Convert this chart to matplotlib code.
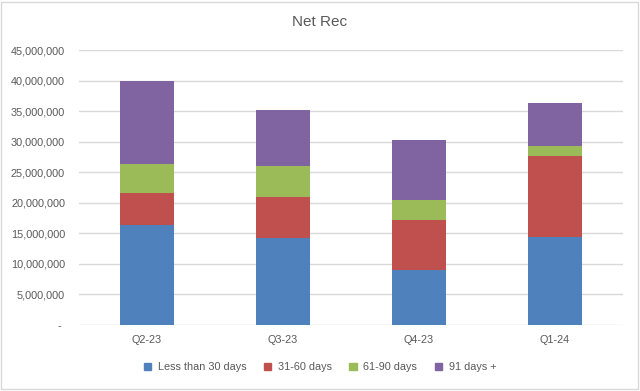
import matplotlib.pyplot as plt
from matplotlib.patches import Patch, Rectangle
from matplotlib.ticker import FuncFormatter

# data (in millions)
quarters = ["Q2-23", "Q3-23", "Q4-23", "Q1-24"]
less_30 = [16.4, 14.3, 9.0, 14.4]
d31_60 = [5.2, 6.7, 8.2, 13.3]
d61_90 = [4.8, 5.1, 3.3, 1.6]
d91_plus = [13.5, 9.1, 9.8, 7.1]

series = [
    ("Less than 30 days", less_30, "#4F81BD"),
    ("31-60 days", d31_60, "#C0504D"),
    ("61-90 days", d61_90, "#9BBB59"),
    ("91 days +", d91_plus, "#8064A2"),
]

plt.rcParams['font.family'] = ['Liberation Sans', 'DejaVu Sans']
txt = "#595959"

fig = plt.figure(figsize=(6.4, 3.91), dpi=100)
ax = fig.add_axes([0.1234, 0.1688, 0.85, 0.7033])

x = range(len(quarters))
bottom = [0.0] * len(quarters)
for name, vals, col in series:
    v = [a * 1e6 for a in vals]
    ax.bar(x, v, width=0.4, bottom=bottom, color=col, label=name, zorder=3)
    bottom = [b + c for b, c in zip(bottom, v)]

ax.set_xlim(-0.5, 3.5)
ax.set_ylim(0, 45e6)
ax.set_yticks([i * 5e6 for i in range(10)])
ax.yaxis.set_major_formatter(FuncFormatter(lambda y, p: "- " if y == 0 else f"{y:,.0f}"))
ax.set_xticks(list(x))
ax.set_xticklabels(quarters)
ax.tick_params(length=0, labelsize=7.8, labelcolor=txt)
ax.tick_params(axis='y', pad=10)
ax.tick_params(axis='x', pad=7)
ax.grid(axis='y', color="#D9D9D9", linewidth=1, zorder=0)
for s in ax.spines.values():
    s.set_visible(False)

fig.text(0.5, 0.945, "Net Rec", ha='center', va='center', fontsize=11, color=txt)

handles = [Patch(color=c, label=n) for n, _, c in series]
fig.legend(handles=handles, loc='center', bbox_to_anchor=(0.5, 0.061), ncol=4,
           frameon=False, fontsize=7.8, labelcolor=txt, handlelength=0.7,
           handleheight=0.7, handletextpad=0.6, columnspacing=1.6)

# chart border
fig.patches.append(Rectangle((0.002, 0.004), 0.995, 0.992, transform=fig.transFigure,
                             fill=False, edgecolor="#D9D9D9", linewidth=1))

fig.savefig("out.png", dpi=100)
